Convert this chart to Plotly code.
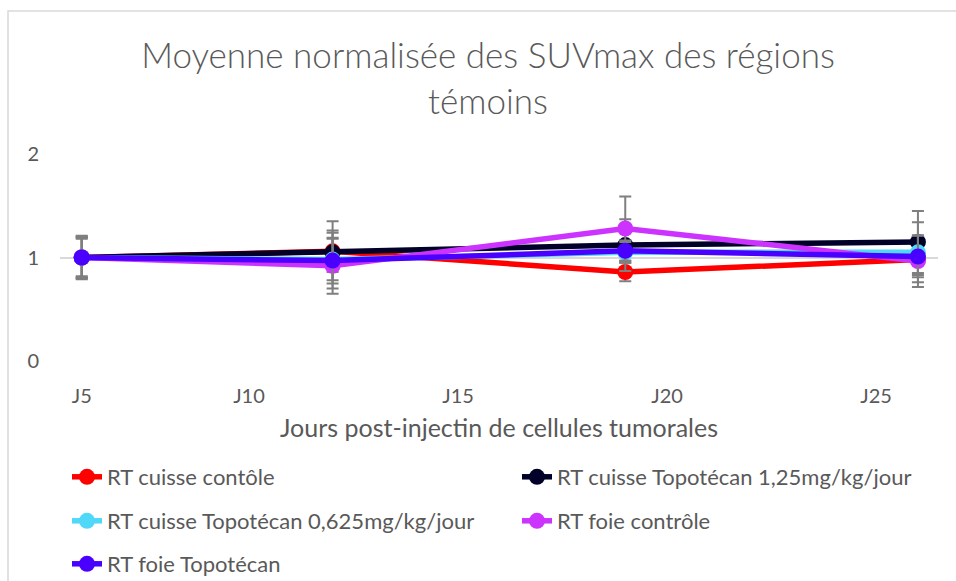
import plotly.graph_objects as go

# ---- data ----
x_days = [6, 12, 19, 26]
tick_vals = [6, 10, 15, 20, 25]
tick_text = ["J5", "J10", "J15", "J20", "J25"]

names = [
    "RT cuisse contôle",
    "RT cuisse Topotécan 1,25mg/kg/jour",
    "RT cuisse Topotécan 0,625mg/kg/jour",
    "RT foie contrôle",
    "RT foie Topotécan",
]
red_vals = [1.0, 1.06, 0.86, 0.98]
red_err = [0.20, 0.20, 0.09, 0.15]
black_vals = [1.0, 1.05, 1.12, 1.15]
black_err = [0.19, 0.30, 0.25, 0.30]
cyan_vals = [1.0, 0.98, 1.05, 1.05]
cyan_err = [0.18, 0.20, 0.10, 0.29]
magenta_vals = [1.0, 0.92, 1.28, 0.965]
magenta_err = [0.21, 0.27, 0.31, 0.25]
blue_vals = [1.0, 0.97, 1.065, 1.01]
blue_err = [0.20, 0.27, 0.10, 0.20]

colors = ["#FF0000", "#000028", "#4FD8F8", "#CC33FF", "#4A00FF"]
values = [red_vals, black_vals, cyan_vals, magenta_vals, blue_vals]
errors = [red_err, black_err, cyan_err, magenta_err, blue_err]

FONT = "Lato"
GREY = "#595959"

W, H = 956, 581
L, R, T, B = 60, 18, 154, 220
pw, ph = W - L - R, H - T - B

def px_x(p):
    return (p - L) / pw

def px_y(p):
    return (H - B - p) / ph

# legend slot (column, row) for each series
legend_cols = [0, 1, 0, 1, 0]
legend_rows = [0, 0, 1, 1, 2]
col_px = [67, 517]
row_px = [477, 521, 564]

fig = go.Figure()
legend_layout = {}
for i, (name, vals, err, col) in enumerate(zip(names, values, errors, colors)):
    lid = "legend" if i == 0 else f"legend{i + 1}"
    fig.add_trace(go.Scatter(
        x=x_days, y=vals, name=name, mode="lines+markers",
        line=dict(color=col, width=5.5),
        marker=dict(color=col, size=16),
        error_y=dict(type="data", array=err, visible=True,
                     color="#7F7F7F", thickness=2, width=6),
        legend=lid,
    ))
    legend_layout[lid] = dict(
        orientation="h", xanchor="left", yanchor="middle",
        xref="container", yref="container",
        x=col_px[legend_cols[i]] / W, y=1 - row_px[legend_rows[i]] / H,
        font=dict(family=FONT, size=22, color=GREY),
        bgcolor="rgba(0,0,0,0)", itemwidth=30,
    )

fig.update_layout(
    width=W, height=H,
    margin=dict(l=L, r=R, t=T, b=B, autoexpand=False),
    paper_bgcolor="white", plot_bgcolor="white",
    title=dict(
        text="Moyenne normalisée des SUVmax des régions<br>témoins",
        font=dict(family=FONT, size=35, color=GREY, weight=300),
        x=488 / W, xanchor="center", xref="container",
        y=1 - 68 / H, yanchor="middle", yref="container",
    ),
    xaxis=dict(
        range=[5.48, 26.48], tickvals=tick_vals, ticktext=tick_text,
        showgrid=False, zeroline=False, showline=False,
        ticks="", ticklabelstandoff=21,
        tickfont=dict(family=FONT, size=20, color=GREY),
        title=dict(text="Jours post-injectin de cellules tumorales",
                   font=dict(family=FONT, size=25, color=GREY), standoff=13),
    ),
    yaxis=dict(
        range=[0, 2], tickvals=[0, 1, 2], showgrid=True,
        gridcolor="#D9D9D9", gridwidth=1.5, zeroline=False, showline=False,
        ticks="", ticklabelstandoff=20,
        tickfont=dict(family=FONT, size=20, color=GREY),
    ),
    showlegend=True,
    shapes=[dict(type="rect", xref="paper", yref="paper",
                 x0=px_x(8), x1=px_x(1000), y0=px_y(640), y1=px_y(11),
                 line=dict(color="#D9D9D9", width=1.5), layer="below")],
    **legend_layout,
)

fig.write_html("out.html", config={"displayModeBar": False},
               post_script="document.body.style.margin='0';document.body.style.padding='0';")
